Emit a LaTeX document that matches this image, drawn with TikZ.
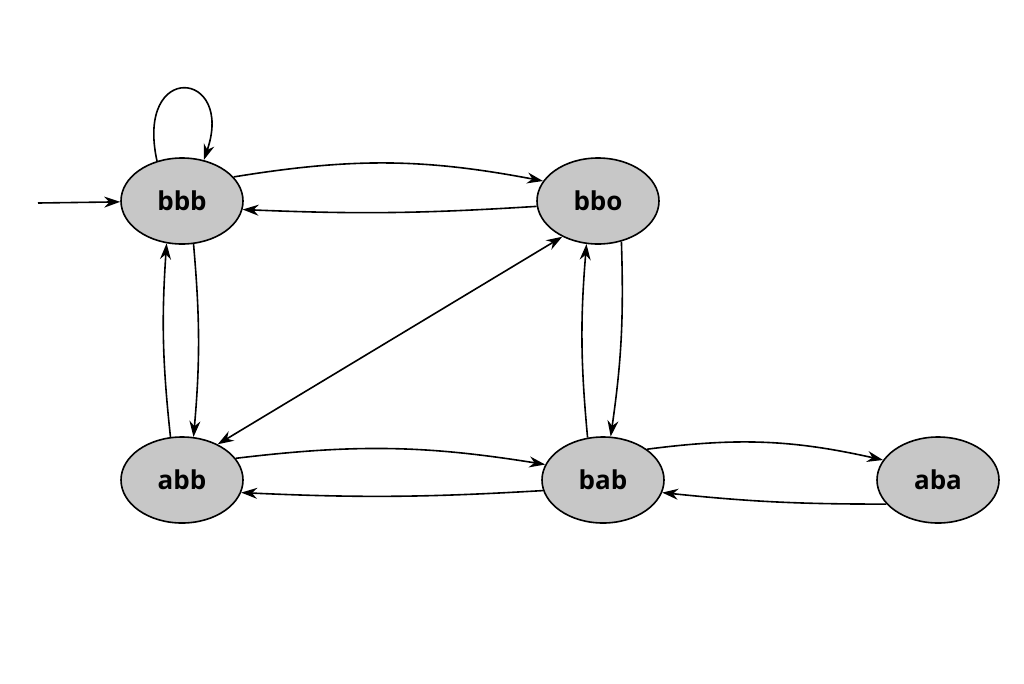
\documentclass[tikz,border=0pt]{standalone}
\usepackage{fontspec}
\setmainfont{Open Sans}
\usetikzlibrary{shapes.geometric,arrows.meta}
\begin{document}
\begin{tikzpicture}[x=1pt,y=-1pt,
 st/.style={ellipse,draw,line width=1.6pt,fill=black!22,minimum width=122pt,minimum height=86pt,inner sep=0pt,font=\fontsize{26}{30}\selectfont\bfseries},
 ar/.style={-{Stealth[length=16pt,width=11pt]},line width=1.6pt}]
\useasboundingbox (0,0) rectangle (1024,683);
\node[st] (bbb) at (182,201) {bbb};
\node[st] (bbo) at (598,201) {bbo};
\node[st] (abb) at (182,480) {abb};
\node[st] (bab) at (603,480) {bab};
\node[st] (aba) at (938,480) {aba};
\coordinate (s) at (38,203);
\draw[ar] (s) -- (bbb);
\draw[ar] (bbb.122) .. controls (135,60) and (235,70) .. (bbb.62);
\draw[ar] (bbb.25) to[bend left=10] (bbo.160);
\draw[ar] (bbo.185) to[bend left=3] (bbb.-8);
\draw[ar] (bbb.-75) to[bend left=5] (abb.75);
\draw[ar] (abb.105) to[bend left=5] (bbb.-110);
\draw[{Stealth[length=16pt,width=11pt]}-{Stealth[length=16pt,width=11pt]},line width=1.6pt] (bbo.-135) -- (abb.45);
\draw[ar] (bbo.-60) to[bend left=5] (bab.80);
\draw[ar] (bab.110) to[bend left=5] (bbo.-105);
\draw[ar] (abb.22) to[bend left=8] (bab.165);
\draw[ar] (bab.-170) to[bend left=3] (abb.-12);
\draw[ar] (bab.35) to[bend left=10] (aba.160);
\draw[ar] (aba.-155) to[bend left=3] (bab.-12);
\end{tikzpicture}
\end{document}
